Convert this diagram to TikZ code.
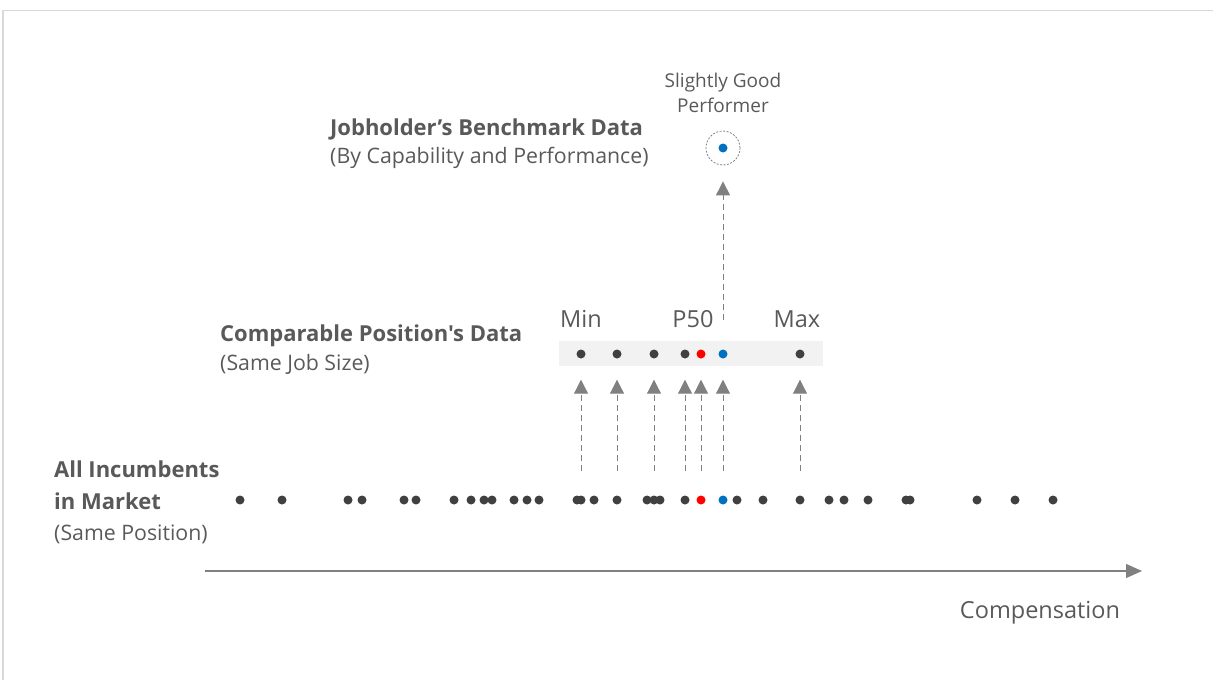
\documentclass[tikz,border=0pt]{standalone}
\usepackage{fontspec}
\setmainfont{Open Sans}[Ligatures=TeXOff]
\usetikzlibrary{arrows.meta}
\definecolor{txtgray}{HTML}{595959}
\definecolor{dotgray}{HTML}{404040}
\definecolor{arrgray}{HTML}{808080}
\definecolor{hired}{HTML}{FF0000}
\definecolor{hiblue}{HTML}{0070C0}
\definecolor{bandgray}{HTML}{F2F2F2}
\definecolor{framegray}{HTML}{D9D9D9}
\tikzset{
  dot/.style={circle,fill=dotgray,inner sep=0pt,minimum size=9pt},
  link/.style={arrgray,line width=1pt,dash pattern=on 6pt off 4pt,
    -{Triangle[width=14pt,length=14pt]}},
  txt/.style={text=txtgray,inner sep=0pt,font=\fontsize{23.5}{27}\selectfont},
  head/.style={text=txtgray,inner sep=0pt,font=\fontsize{22}{26}\selectfont\bfseries},
  sub/.style={text=txtgray,inner sep=0pt,font=\fontsize{21.3}{25}\selectfont},
  small/.style={text=txtgray,inner sep=0pt,font=\fontsize{19}{23}\selectfont}
}
\begin{document}
\begin{tikzpicture}[x=1pt,y=-1pt,line join=round]
\useasboundingbox (0,0) rectangle (1213,680);
\draw[framegray,line width=1.5pt] (3,680) -- (3,10.5) -- (1213,10.5);
% compensation axis
\coordinate (ax0) at (205,571);
\coordinate (ax1) at (1142,571);
\draw[arrgray,line width=1.2pt,-{Triangle[width=14pt,length=16pt]}] (ax0) -- (ax1);
\node[txt,anchor=base] (comp) at (1040,618) {Compensation};
% row labels
\node[head,anchor=base west] (allA) at (54,477) {All Incumbents};
\node[head,anchor=base west] (allB) at (54,509) {in Market};
\node[sub,anchor=base west] (allC) at (54,540) {(Same Position)};
\node[head,anchor=base west] (compA) at (220,341) {Comparable Position's Data};
\node[sub,anchor=base west] (compB) at (220,370) {(Same Job Size)};
\node[head,anchor=base west] (jobA) at (330,135) {Jobholder’s Benchmark Data};
\node[sub,anchor=base west] (jobB) at (330,163) {(By Capability and Performance)};
% band of comparable positions
\node[fill=bandgray,inner sep=0pt,minimum width=264pt,minimum height=25pt] (band) at (691,353.5) {};
\node[txt,anchor=base] (minlab) at (581,327) {Min};
\node[txt,anchor=base] (p50lab) at (693,327) {P50};
\node[txt,anchor=base] (maxlab) at (797,327) {Max};
% all incumbents
\foreach \x in {240,282,348,362,404,416,454,471,484,492,514,527,539,577,594,647,660,
                737,763,829,844,868,906,910,977,1015,1053}
  \node[dot] at (\x,500) {};
% picked incumbents
\foreach \x/\c [count=\i] in {581/dotgray,617/dotgray,654/dotgray,685/dotgray,
                              701/hired,723/hiblue,800/dotgray}{
  \node[dot,fill=\c] (r\i) at (\x,500) {};
  \node[dot,fill=\c] (b\i) at (\x,354) {};
  \draw[link,shorten <=24pt,shorten >=21pt] (r\i) -- (b\i);
}
% jobholder
\node[circle,draw=arrgray,line width=0.8pt,dash pattern=on 2pt off 1.5pt,
      minimum size=34pt] (perf) at (723,148) {};
\node[dot,fill=hiblue] (perfdot) at (perf) {};
\node[small,anchor=base] (perfA) at (723,87) {Slightly Good};
\node[small,anchor=base] (perfB) at (723,112) {Performer};
\draw[link,shorten <=29pt,shorten >=16pt] (b6) -- (perf);
\end{tikzpicture}
\end{document}
